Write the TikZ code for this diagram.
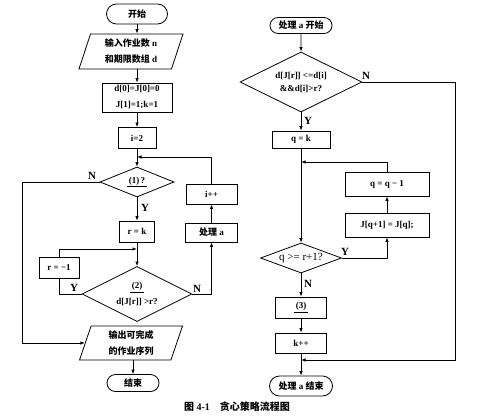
\documentclass[tikz,border=0pt]{standalone}
\usepackage{fontspec}
\setmainfont{Liberation Serif}
\newfontfamily\cjk{Noto Sans CJK SC}
\usetikzlibrary{shapes.geometric,shapes.misc,arrows.meta}
\begin{document}
\begin{tikzpicture}[x=1pt,y=-1pt,
  every node/.style={font=\bfseries\fontsize{9}{16}\selectfont, inner sep=0pt, align=center},
  box/.style={draw, rectangle, line width=0.8pt},
  term/.style={draw, rounded rectangle, line width=0.8pt},
  dia/.style={draw, diamond, line width=0.8pt},
  para/.style={draw, trapezium, trapezium left angle=65, trapezium right angle=115,
    trapezium stretches body, line width=0.8pt},
  arr/.style={-{Latex[length=4.5pt,width=3.5pt]}, line width=0.8pt},
  ln/.style={line width=0.8pt},
  lab/.style={font=\bfseries\fontsize{11}{12}\selectfont}
]
\useasboundingbox (0,0) rectangle (500,417);
% left column
\node[term, minimum width=61pt, minimum height=20pt] (start) at (137,14) {\cjk 开始};
\node[para, minimum width=104pt, minimum height=35pt] (in) at (131,51.5) {{\cjk 输入作业数} n\\{\cjk 和期限数组} d};
\node[box, minimum width=70pt, minimum height=29pt] (init) at (137,97.5) {d[0]=J[0]=0\\J[1]=1;k=1};
\node[box, minimum width=38pt, minimum height=21pt] (i2) at (137,138) {i=2};
\node[dia, minimum width=74pt, minimum height=30pt, label={center:{\underline{\,(1)\,?\,}}}] (d1) at (137,182) {};
\node[box, minimum width=35pt, minimum height=21pt] (rk) at (137,231.5) {r = k};
\node[dia, minimum width=110pt, minimum height=55pt, label={center:{\underline{\,(2)\,}\\d[J[r]] >r?}}] (d2) at (137,294) {};
\node[box, minimum width=40pt, minimum height=21pt] (rm1) at (59,267.5) {r = −1};
\node[box, minimum width=51pt, minimum height=20pt] (ipp) at (211.5,194) {i++};
\node[box, minimum width=52pt, minimum height=19pt] (proc) at (211.5,232.5) {{\cjk 处理} a};
\node[para, minimum width=103pt, minimum height=34pt] (out) at (131,343) {{\cjk 输出可完成}\\{\cjk 的作业序列}};
\node[term, minimum width=52pt, minimum height=17pt] (end) at (133,383) {\cjk 结束};
% right column
\node[term, minimum width=62pt, minimum height=16pt] (ps) at (301,25.5) {{\cjk 处理} a {\cjk 开始}};
\node[dia, minimum width=122pt, minimum height=60pt, label={center:{d[J[r]] <=d[i]\\[-3pt]\&\&d[i]>r?}}] (d3) at (301,82) {};
\node[box, minimum width=58pt, minimum height=17pt] (qk) at (301,139.5) {q = k};
\node[dia, minimum width=81pt, minimum height=30pt, label={center:{\mdseries\fontsize{11}{13}\selectfont q >= r+1?}}] (d4) at (301,258) {};
\node[box, minimum width=84pt, minimum height=24pt] (jq) at (387,225) {J[q+1] = J[q];};
\node[box, minimum width=84pt, minimum height=24pt] (qq) at (387,184) {q = q − 1};
\node[box, minimum width=51pt, minimum height=21pt] (three) at (301,307.5) {\underline{\,(3)\,}};
\node[box, minimum width=51pt, minimum height=20pt] (kpp) at (301,343) {k++};
\node[term, minimum width=63pt, minimum height=20pt] (pe) at (301,386) {{\cjk 处理} a {\cjk 结束}};
\node[font=\bfseries\fontsize{10}{12}\selectfont] (cap) at (237,407) {{\cjk 图} 4-1\quad{\cjk 贪心策略流程图}};
% coordinates
\coordinate (m1) at (137,157);
\coordinate (m2) at (137,249);
\coordinate (lx) at (22,0);
\coordinate (m3) at (301,162);
\coordinate (m4) at (301,360);
\coordinate (nx) at (455,0);
% left connectors
\draw[arr] (start.south) -- (start.south |- in.north);
\draw[arr] (init.north |- in.south) -- (init.north);
\draw[arr] (init) -- (i2);
\draw[arr] (i2) -- (d1);
\draw[arr] (d1) -- (rk);
\draw[arr] (rk) -- (d2);
\draw[ln] (d2.west) -| (rm1.south);
\draw[arr] (rm1.north) |- (m2);
\draw[arr] (d2.east) -| (proc.south);
\draw[arr] (proc) -- (ipp);
\draw[arr] (ipp.north) |- (m1);
\draw[arr] (d1.west) -- (d1.west -| lx) |- (out.west);
\draw[arr] (end.north |- out.south) -- (end.north);
\node[lab] (ly1) at (145,208) {Y};
\node[lab] (ln1) at (92,176) {N};
\node[lab] (ly2) at (74,288) {Y};
\node[lab] (ln2) at (197,289) {N};
% right connectors
\draw[arr] (ps) -- (d3);
\draw[arr] (d3) -- (qk);
\draw[arr] (qk) -- (d4);
\draw[arr] (d4.east) -| (jq.south);
\draw[arr] (jq) -- (qq);
\draw[arr] (qq.north) |- (m3);
\draw[arr] (d4) -- (three);
\draw[arr] (three) -- (kpp);
\draw[arr] (kpp) -- (pe);
\draw[arr] (d3.east) -- (d3.east -| nx) |- (m4);
\node[lab] (ly3) at (308,121) {Y};
\node[lab] (ln3) at (366,76) {N};
\node[lab] (ly4) at (345,252) {Y};
\node[lab] (ln4) at (308,284) {N};
\end{tikzpicture}
\end{document}
